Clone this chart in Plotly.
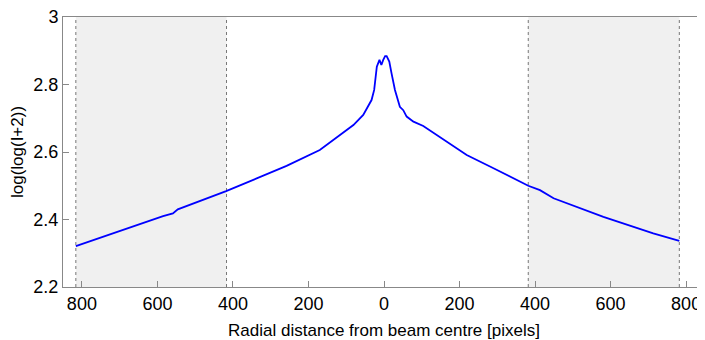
import plotly.graph_objects as go

# radial profile (negative = left of beam centre)
radius = [-816, -718, -585, -559, -546, -418, -346, -258, -170, -81, -55, -33, -26,
          -19, -12, -7, -2, 3, 7, 14, 20, 29, 42, 51, 60, 78, 104, 166, 219, 290,
          382, 413, 449, 581, 713, 782]
intensity = [2.321, 2.359, 2.410, 2.418, 2.430, 2.484, 2.517, 2.559, 2.606, 2.680, 2.710,
             2.754, 2.784, 2.853, 2.873, 2.858, 2.873, 2.884, 2.884, 2.868, 2.833, 2.784,
             2.734, 2.724, 2.705, 2.690, 2.677, 2.631, 2.591, 2.552, 2.500, 2.487,
             2.463, 2.408, 2.359, 2.337]

# shaded (masked) regions
regions = [(-816, -417), (382, 782)]

xticks = [-800, -600, -400, -200, 0, 200, 400, 600, 800]
xticklabels = [str(abs(v)) for v in xticks]
yticks = [2.2, 2.4, 2.6, 2.8, 3.0]
yticklabels = ["2.2", "2.4", "2.6", "2.8", "3"]

fig = go.Figure()

for x0, x1 in regions:
    fig.add_vrect(x0=x0, x1=x1, fillcolor="#f0f0f0", line_width=0, layer="below")
    for xv in (x0, x1):
        fig.add_vline(x=xv, line=dict(color="#777777", width=1, dash="dot"), layer="below")

fig.add_trace(go.Scatter(x=radius, y=intensity, mode="lines",
                         line=dict(color="#0000ff", width=1.8), showlegend=False))

# page body keeps an 8px margin, so the figure is 8px smaller on each side
fig.update_layout(
    width=697, height=332,
    margin=dict(l=55, r=0, t=9, b=53),
    plot_bgcolor="white", paper_bgcolor="white",
    font=dict(family="Liberation Sans, Arial, sans-serif", color="black", size=17),
)
fig.update_xaxes(range=[-850, 850], tickvals=xticks, ticktext=xticklabels,
                 automargin=False, ticklabeloverflow="allow",
                 showgrid=False, zeroline=False, showline=True, linecolor="#888888",
                 mirror=True, ticks="inside", ticklen=6, tickcolor="#888888",
                 tickfont=dict(size=18),
                 title=dict(text="Radial distance from beam centre [pixels]",
                            font=dict(size=17), standoff=12))
fig.update_yaxes(range=[2.2, 3.0001], tickvals=yticks, ticktext=yticklabels,
                 automargin=False, ticklabeloverflow="allow",
                 showgrid=False, zeroline=False, showline=True, linecolor="#888888",
                 ticks="inside", ticklen=6, tickcolor="#888888",
                 tickfont=dict(size=18),
                 title=dict(text="log(log(I+2))", font=dict(size=17), standoff=10))

fig.write_html("out.html")
